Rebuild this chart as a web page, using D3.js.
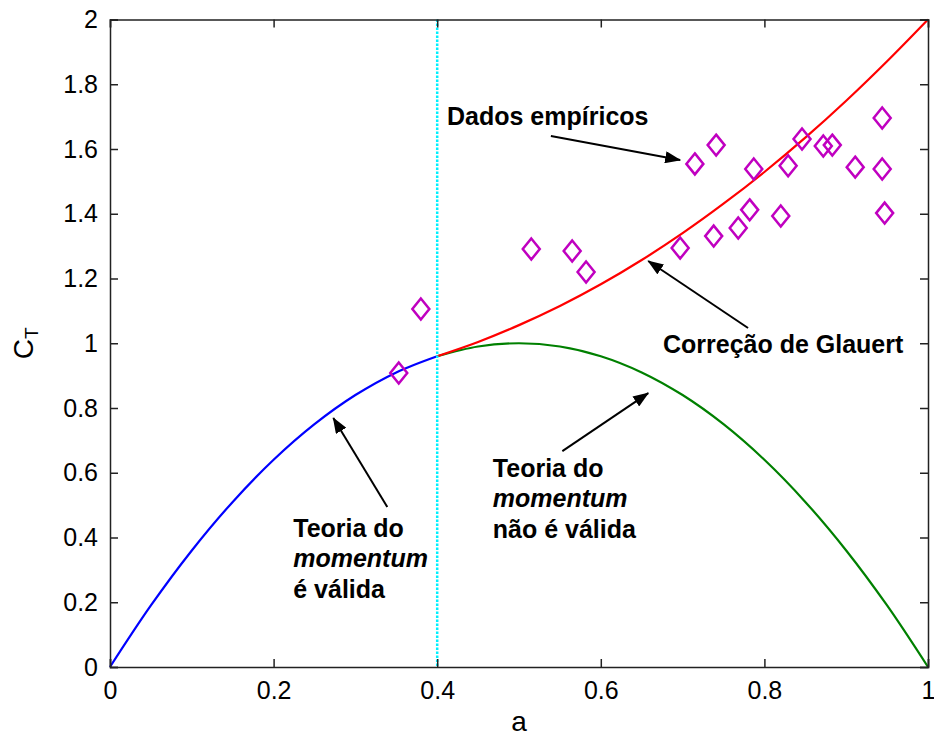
<!DOCTYPE html>
<html>
<head>
<meta charset="utf-8">
<script src="https://cdn.jsdelivr.net/npm/d3@7"></script>
<style>
  body { margin: 0; background: #fff; }
  text { font-family: "Liberation Sans", Arial, sans-serif; fill: #000; }
  .note { font-weight: bold; font-size: 25px; }
</style>
</head>
<body>
<svg id="chart"></svg>
<script>
// ------------------------------------------------------------
// Thrust coefficient C_T versus axial induction factor a,
// momentum theory, Glauert correction and empirical data.
// ------------------------------------------------------------

const width = 934;
const height = 740;

// Momentum theory, valid part (a from 0 to 0.4)
const validA = [0, 0.05, 0.1, 0.15, 0.2, 0.25, 0.3, 0.35, 0.4];
const validCt = [0, 0.19, 0.36, 0.51, 0.64, 0.75, 0.84, 0.91, 0.96];

// Momentum theory, not valid part (a from 0.4 to 1)
const invalidA = [0.4, 0.45, 0.5, 0.55, 0.6, 0.65, 0.7, 0.75, 0.8, 0.85, 0.9, 0.95, 1];
const invalidCt = [0.96, 0.99, 1.0, 0.99, 0.96, 0.91, 0.84, 0.75, 0.64, 0.51, 0.36, 0.19, 0];

// Glauert correction (a from 0.4 to 1)
const glauertA = [0.4, 0.45, 0.5, 0.55, 0.6, 0.65, 0.7, 0.75, 0.8, 0.85, 0.9, 0.95, 1];
const glauertCt = [0.96, 1.004, 1.056, 1.115, 1.182, 1.257, 1.34, 1.431, 1.529, 1.635, 1.749, 1.871, 2.0];

// Empirical data points
const empA = [0.353, 0.380, 0.515, 0.565, 0.582, 0.697, 0.715, 0.741, 0.738, 0.768, 0.782,
              0.787, 0.820, 0.829, 0.846, 0.872, 0.883, 0.911, 0.944, 0.944, 0.947];
const empCt = [0.908, 1.106, 1.291, 1.285, 1.220, 1.294, 1.554, 1.612, 1.331, 1.356, 1.412,
               1.538, 1.393, 1.548, 1.631, 1.609, 1.612, 1.544, 1.696, 1.538, 1.402];

// Limit of validity of momentum theory
const limitA = 0.4;

// Tick values and labels
const xTicks = [0, 0.2, 0.4, 0.6, 0.8, 1];
const xTickLabels = ["0", "0.2", "0.4", "0.6", "0.8", "1"];
const yTicks = [0, 0.2, 0.4, 0.6, 0.8, 1, 1.2, 1.4, 1.6, 1.8, 2];
const yTickLabels = ["0", "0.2", "0.4", "0.6", "0.8", "1", "1.2", "1.4", "1.6", "1.8", "2"];

const svg = d3.select("#chart")
  .attr("width", width)
  .attr("height", height);

// Plot box in pixels
const boxLeft = 110, boxRight = 928, boxTop = 19.5, boxBottom = 667;

const x = d3.scaleLinear().domain([0, 1]).range([boxLeft, boxRight]);
const y = d3.scaleLinear().domain([0, 2]).range([boxBottom, boxTop]);

// Arrow head marker
svg.append("defs").append("marker")
  .attr("id", "head")
  .attr("viewBox", "0 0 16 12")
  .attr("refX", 15)
  .attr("refY", 6)
  .attr("markerWidth", 16)
  .attr("markerHeight", 12)
  .attr("markerUnits", "userSpaceOnUse")
  .attr("orient", "auto")
  .append("path")
  .attr("d", "M0,0 L16,6 L0,12 Z")
  .attr("fill", "#000");

// Curves
const line = d3.line()
  .x(d => x(d[0]))
  .y(d => y(d[1]))
  .curve(d3.curveCatmullRom);

function drawCurve(as, cts, color) {
  svg.append("path")
    .datum(d3.zip(as, cts))
    .attr("fill", "none")
    .attr("stroke", color)
    .attr("stroke-width", 2.2)
    .attr("d", line);
}

drawCurve(invalidA, invalidCt, "#008000");
drawCurve(glauertA, glauertCt, "#ff0000");
drawCurve(validA, validCt, "#0000ff");

// Dotted line at the limit a = 0.4
svg.append("line")
  .attr("x1", x(limitA)).attr("x2", x(limitA))
  .attr("y1", y(2)).attr("y2", y(0))
  .attr("stroke", "#00f0ff")
  .attr("stroke-width", 2.5)
  .attr("stroke-dasharray", "2.5,1.5");

// Empirical diamonds
svg.selectAll(".emp")
  .data(d3.zip(empA, empCt))
  .enter()
  .append("path")
  .attr("class", "emp")
  .attr("transform", d => `translate(${x(d[0])},${y(d[1])})`)
  .attr("d", "M0,-10.5 L8.5,0 L0,10.5 L-8.5,0 Z")
  .attr("fill", "none")
  .attr("stroke", "#c000c0")
  .attr("stroke-width", 2.5);

// Axes box with inward ticks on all four sides
const tickLen = 8;
const axes = svg.append("g");

axes.append("g")
  .attr("transform", `translate(0,${boxBottom})`)
  .call(d3.axisBottom(x).tickValues(xTicks).tickSize(-tickLen)
    .tickFormat((d, i) => xTickLabels[i]).tickPadding(14));

axes.append("g")
  .attr("transform", `translate(0,${boxTop})`)
  .call(d3.axisTop(x).tickValues(xTicks).tickSize(-tickLen).tickFormat(""));

axes.append("g")
  .attr("transform", `translate(${boxLeft},0)`)
  .call(d3.axisLeft(y).tickValues(yTicks).tickSize(-tickLen)
    .tickFormat((d, i) => yTickLabels[i]).tickPadding(12));

axes.append("g")
  .attr("transform", `translate(${boxRight},0)`)
  .call(d3.axisRight(y).tickValues(yTicks).tickSize(-tickLen).tickFormat(""));

axes.selectAll(".domain").attr("stroke", "#222").attr("stroke-width", 1.5);
axes.selectAll(".tick line").attr("stroke", "#222").attr("stroke-width", 1.5);
axes.selectAll(".tick text")
  .attr("font-family", "Liberation Sans, Arial, sans-serif")
  .attr("font-size", 25)
  .attr("fill", "#000");

// Axis labels
svg.append("text")
  .attr("x", (boxLeft + boxRight) / 2)
  .attr("y", 731)
  .attr("text-anchor", "middle")
  .attr("font-size", 28)
  .text("a");

const yl = svg.append("text")
  .attr("transform", `translate(33,${y(1)}) rotate(-90)`)
  .attr("text-anchor", "middle")
  .attr("font-size", 28);
yl.append("tspan").text("C");
yl.append("tspan").attr("font-size", 19).attr("dy", 5).text("T");

// Annotations: arrows (data coordinates)
const arrows = [
  [[0.539, 1.640], [0.697, 1.566]],
  [[0.780, 1.047], [0.658, 1.254]],
  [[0.553, 0.667], [0.658, 0.846]],
  [[0.339, 0.494], [0.273, 0.769]]
];

svg.selectAll(".arrow")
  .data(arrows)
  .enter()
  .append("line")
  .attr("class", "arrow")
  .attr("x1", d => x(d[0][0])).attr("y1", d => y(d[0][1]))
  .attr("x2", d => x(d[1][0])).attr("y2", d => y(d[1][1]))
  .attr("stroke", "#000")
  .attr("stroke-width", 2)
  .attr("marker-end", "url(#head)");

// Annotation texts; each line is [text, italic]
function note(ax, ct, lines) {
  const t = svg.append("text")
    .attr("class", "note")
    .attr("x", x(ax))
    .attr("y", y(ct));
  lines.forEach((l, i) => {
    t.append("tspan")
      .attr("x", x(ax))
      .attr("dy", i === 0 ? 0 : 30.5)
      .attr("font-style", l[1] ? "italic" : "normal")
      .text(l[0]);
  });
}

note(0.412, 1.674, [["Dados empíricos", false]]);
note(0.676, 0.970, [["Correção de Glauert", false]]);
note(0.468, 0.587, [["Teoria do", false], ["momentum", true], ["não é válida", false]]);
note(0.224, 0.402, [["Teoria do", false], ["momentum", true], ["é válida", false]]);
</script>
</body>
</html>
